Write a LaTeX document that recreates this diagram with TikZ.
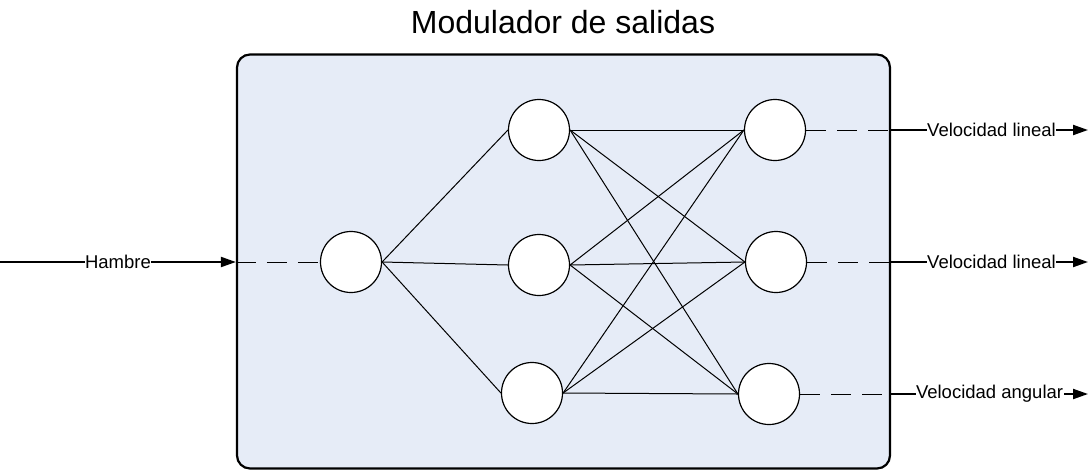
\documentclass[tikz,border=0pt]{standalone}
\usepackage{fontspec}
\setmainfont{Liberation Sans}
\usetikzlibrary{arrows.meta}
\definecolor{boxfill}{RGB}{230,236,247}
\begin{document}
\begin{tikzpicture}[x=1pt,y=-1pt,
  neuron/.style={circle,draw,line width=1.2pt,fill=white,minimum size=61pt,inner sep=0pt},
  link/.style={line width=1pt},
  dashlink/.style={line width=1pt,dash pattern=on 20pt off 11pt},
  mainarrow/.style={line width=2pt,-{Triangle[length=15pt,width=10pt]}},
  lbl/.style={fill=white,inner sep=0.5pt,font=\fontsize{18.5}{20}\selectfont}
]
\useasboundingbox (0,0) rectangle (1091,472);
\node[font=\fontsize{32}{36}\selectfont] (title) at (563,22) {Modulador de salidas};
\node[draw,line width=2.2pt,fill=boxfill,rounded corners=13pt,minimum width=653pt,minimum height=414pt,inner sep=0pt] (box) at (563.5,261.5) {};
% neurons
\node[neuron] (in) at (351,262) {};
\node[neuron] (h1) at (539,130) {};
\node[neuron] (h2) at (539,265) {};
\node[neuron] (h3) at (532,393) {};
\node[neuron] (o1) at (775,130) {};
\node[neuron] (o2) at (776,262) {};
\node[neuron] (o3) at (769,394) {};
% links
\foreach \h in {h1,h2,h3} {\draw[link] (in.east) -- (\h.west);}
\foreach \h in {h1,h2,h3} {\foreach \o in {o1,o2,o3} {\draw[link] (\h.east) -- (\o.west);}}
% input
\coordinate (start) at (0,262);
\coordinate (boxin) at (box.west |- start);
\draw[mainarrow] (start) -- node[lbl,pos=0.5] {Hambre} (boxin);
\draw[dashlink] (boxin) -- (in.west);
% outputs
\coordinate (e1) at (1088,130);
\coordinate (e2) at (1088,262);
\coordinate (e3) at (1088,394);
\coordinate (b1) at (box.east |- e1);
\coordinate (b2) at (box.east |- e2);
\coordinate (b3) at (box.east |- e3);
\draw[dashlink] (o1.east) -- (b1);
\draw[dashlink] (o2.east) -- (b2);
\draw[dashlink] (o3.east) -- (b3);
\draw[mainarrow] (b1) -- node[lbl,pos=0.51] {Velocidad lineal} (e1);
\draw[mainarrow] (b2) -- node[lbl,pos=0.51] {Velocidad lineal} (e2);
\draw[mainarrow] (b3) -- node[lbl,pos=0.50] {Velocidad angular} (e3);
\end{tikzpicture}
\end{document}
